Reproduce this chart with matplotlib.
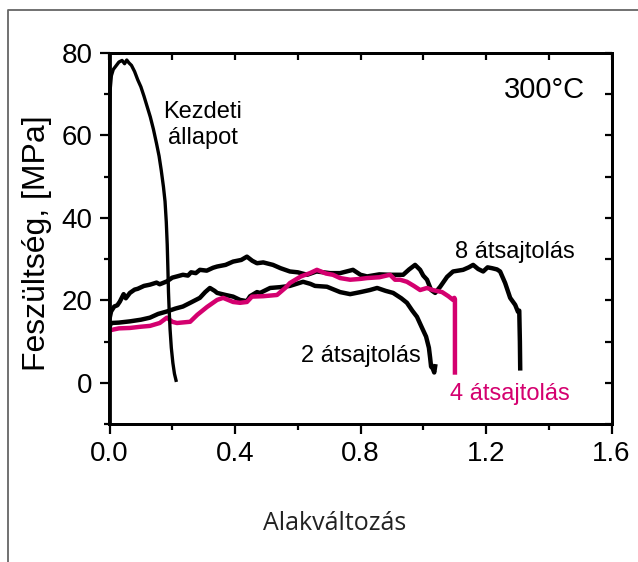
import matplotlib
matplotlib.use('Agg')
import matplotlib.pyplot as plt
from matplotlib.lines import Line2D
from matplotlib.ticker import MultipleLocator, NullFormatter

# stress-strain curves, 300 C
kezdeti_x = [0.000, 0.002, 0.006, 0.012, 0.020, 0.030, 0.040, 0.048, 0.055, 0.062,
             0.070, 0.080, 0.090, 0.100, 0.110, 0.120, 0.130, 0.140, 0.150, 0.158,
             0.165, 0.172, 0.177, 0.181, 0.184, 0.186, 0.188, 0.190, 0.193, 0.197,
             0.202, 0.207, 0.212]
kezdeti_y = [63.0, 71.0, 74.5, 76.0, 76.8, 77.8, 78.2, 77.4, 78.3, 77.6,
             77.0, 75.5, 73.5, 71.8, 69.5, 67.0, 64.5, 61.5, 58.0, 55.0,
             51.5, 47.5, 44.0, 39.0, 33.5, 28.0, 22.0, 18.0, 13.0, 8.5,
             4.8, 2.2, 0.6]

a8_x = [0.000, 0.005, 0.015, 0.025, 0.033, 0.045, 0.052, 0.065, 0.080, 0.090,
        0.110, 0.129, 0.150, 0.160, 0.170, 0.183, 0.200, 0.215, 0.234, 0.250,
        0.260, 0.275, 0.288, 0.310, 0.330, 0.343, 0.370, 0.394, 0.420, 0.438,
        0.455, 0.470, 0.490, 0.521, 0.545, 0.575, 0.600, 0.630, 0.660, 0.703,
        0.735, 0.776, 0.800, 0.821, 0.860, 0.894, 0.936, 0.955, 0.974, 0.990,
        1.000, 1.012, 1.025, 1.038, 1.054, 1.076, 1.095, 1.127, 1.145, 1.159,
        1.175, 1.191, 1.205, 1.219, 1.235, 1.245, 1.261, 1.277, 1.293, 1.302,
        1.306, 1.308, 1.309]
a8_y = [15.5, 17.3, 18.5, 18.8, 19.7, 21.5, 20.5, 21.8, 22.6, 22.8,
        23.5, 23.8, 24.3, 23.9, 24.2, 24.6, 25.5, 25.8, 26.2, 26.0,
        26.8, 26.6, 27.4, 27.2, 27.9, 28.2, 28.6, 29.4, 29.8, 30.6,
        29.6, 29.0, 29.2, 28.6, 27.8, 27.0, 26.8, 26.2, 27.0, 26.6,
        26.6, 27.4, 26.2, 25.8, 26.3, 26.2, 26.2, 27.5, 28.6, 27.4,
        26.0, 25.0, 22.5, 21.8, 23.3, 25.7, 27.0, 27.4, 28.0, 28.6,
        27.6, 27.0, 28.0, 27.8, 27.5, 27.0, 24.2, 20.6, 18.9, 17.2,
        17.5, 10.0, 3.5]

a2_x = [0.000, 0.005, 0.030, 0.065, 0.100, 0.129, 0.155, 0.183, 0.210, 0.234,
        0.260, 0.288, 0.305, 0.320, 0.335, 0.343, 0.370, 0.394, 0.416, 0.438,
        0.448, 0.470, 0.480, 0.512, 0.544, 0.575, 0.617, 0.640, 0.655, 0.693,
        0.735, 0.767, 0.800, 0.830, 0.853, 0.880, 0.904, 0.930, 0.948, 0.965,
        0.980, 0.995, 1.009, 1.018, 1.022, 1.025, 1.030, 1.035, 1.038]
a2_y = [13.5, 14.5, 14.6, 14.9, 15.3, 15.8, 16.7, 17.3, 18.0, 18.5,
        19.5, 20.6, 22.0, 23.0, 22.3, 21.8, 21.3, 20.9, 20.1, 19.8,
        21.0, 22.0, 21.8, 23.0, 23.2, 23.5, 24.5, 24.0, 23.5, 23.3,
        22.0, 21.5, 22.0, 22.5, 23.0, 22.3, 21.8, 20.5, 19.4, 17.5,
        16.0, 13.5, 11.2, 8.5, 6.0, 3.9, 3.5, 2.5, 4.0]

a4_x = [0.000, 0.005, 0.030, 0.065, 0.100, 0.129, 0.160, 0.183, 0.200, 0.215,
        0.257, 0.280, 0.311, 0.343, 0.362, 0.394, 0.416, 0.438, 0.454, 0.490,
        0.534, 0.560, 0.575, 0.610, 0.639, 0.661, 0.690, 0.712, 0.735, 0.767,
        0.800, 0.821, 0.860, 0.894, 0.910, 0.926, 0.948, 0.970, 0.990, 1.012,
        1.030, 1.060, 1.080, 1.095, 1.099, 1.101, 1.101]
a4_y = [12.5, 12.8, 13.2, 13.3, 13.6, 13.8, 14.5, 15.8, 14.8, 14.5,
        14.8, 16.5, 18.4, 20.1, 20.6, 19.6, 19.4, 19.6, 20.9, 21.0,
        21.3, 23.0, 24.2, 25.8, 26.6, 27.4, 26.5, 26.2, 25.4, 25.0,
        25.2, 25.4, 25.6, 26.2, 25.0, 25.0, 24.5, 23.5, 22.5, 23.0,
        22.5, 22.0, 21.0, 20.1, 20.6, 20.3, 2.5]

MAGENTA = '#d4006f'
plt.rcParams['font.family'] = ['Liberation Sans', 'DejaVu Sans']

fig = plt.figure(figsize=(6.38, 5.62), dpi=100)
ax = fig.add_axes([109.5 / 638, 138 / 562, 502 / 638, 371 / 562])

ax.plot(a8_x, a8_y, color='black', lw=3.2, solid_joinstyle='round')
ax.plot(a2_x, a2_y, color='black', lw=3.2, solid_joinstyle='round')
ax.plot(a4_x, a4_y, color=MAGENTA, lw=3.2, solid_joinstyle='round')
ax.plot(kezdeti_x, kezdeti_y, color='black', lw=2.4, solid_joinstyle='round')

ax.set_xlim(0, 1.6)
ax.set_ylim(-10, 80)
ax.xaxis.set_minor_locator(MultipleLocator(0.2))
ax.yaxis.set_minor_locator(MultipleLocator(10))
ax.set_xticks([0.0, 0.4, 0.8, 1.2, 1.6])
ax.set_xticklabels(['0.0', '0.4', '0.8', '1.2', '1.6'])
ax.set_yticks([0, 20, 40, 60, 80])

ax.tick_params(which='major', direction='out', length=7, width=1.6,
               labelsize=20, pad=5, top=False, right=False)
ax.tick_params(which='minor', direction='out', length=4.5, width=1.6,
               top=False, right=False)

# inward ticks on the top and right edges
ax_top = ax.twiny()
ax_top.set_xlim(ax.get_xlim())
ax_top.xaxis.set_major_locator(MultipleLocator(0.2))
ax_top.xaxis.set_major_formatter(NullFormatter())
ax_top.tick_params(axis='x', direction='in', length=5, width=1.6,
                   top=True, bottom=False)
ax_right = ax.twinx()
ax_right.set_ylim(ax.get_ylim())
ax_right.yaxis.set_major_locator(MultipleLocator(10))
ax_right.yaxis.set_major_formatter(NullFormatter())
ax_right.tick_params(axis='y', direction='in', length=5, width=1.6,
                     right=True, left=False)

for a in (ax, ax_top, ax_right):
    for s in a.spines.values():
        s.set_visible(True)
        s.set_linewidth(2.0)
        s.set_color('black')

ax.text(0.298, 64.2, 'Kezdeti', fontsize=17, ha='center', va='baseline')
ax.text(0.298, 57.9, 'állapot', fontsize=17, ha='center', va='baseline')
ax.text(1.516, 69.1, '300°C', fontsize=21, ha='right', va='baseline')
ax.text(1.291, 30.3, '8 átsajtolás', fontsize=17, ha='center', va='baseline')
ax.text(0.802, 5.1, '2 átsajtolás', fontsize=17, ha='center', va='baseline')
ax.text(1.277, -4.1, '4 átsajtolás', fontsize=17, ha='center', va='baseline',
        color=MAGENTA)

fig.text(37 / 638, 1 - 243 / 562, 'Feszültség, [MPa]', rotation=90,
         fontsize=23, ha='center', va='center')
fig.text(334.5 / 638, 1 - 530 / 562, 'Alakváltozás', fontsize=18,
         family=['Open Sans', 'DejaVu Sans'], color='#222222',
         ha='center', va='baseline')

# frame around the figure, open at right and bottom
fig.add_artist(Line2D([8 / 638, 8 / 638, 1.0], [0.0, 1 - 10 / 562, 1 - 10 / 562],
                      transform=fig.transFigure, color='#666666', lw=1.3))

fig.savefig('out.png', dpi=100)
